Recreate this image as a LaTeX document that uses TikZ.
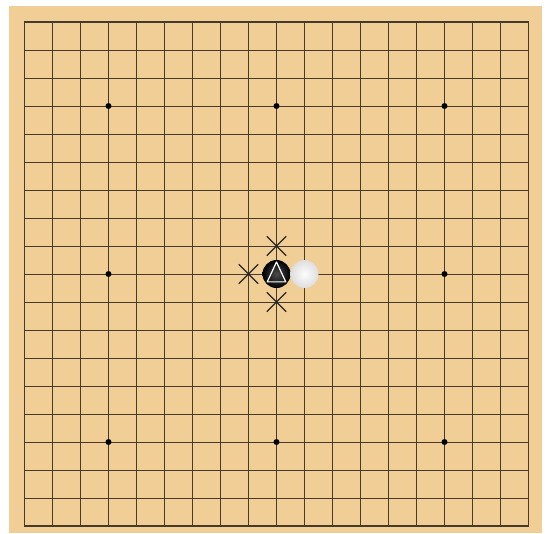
\documentclass[tikz,border=0pt]{standalone}
\usepackage{xcolor}
\usepackage{tikz}
\usetikzlibrary{positioning,calc,shapes.misc}
\definecolor{woodtan}{RGB}{240,206,150}
\definecolor{gridline}{RGB}{70,58,44}
\definecolor{stonewhite}{RGB}{252,252,252}
\definecolor{stonegrey}{RGB}{222,222,222}
\tikzset{
  boardline/.style={draw=gridline,line width=0.9pt},
  boardedge/.style={draw=gridline,line width=1.8pt},
  starpoint/.style={circle,fill=black,inner sep=0pt,minimum size=6pt},
  blackstone/.style={circle,inner sep=0pt,minimum size=28pt,inner color=black!70,outer color=black,shading=radial},
  whitestone/.style={circle,inner sep=0pt,minimum size=28pt,inner color=stonewhite,outer color=stonegrey,shading=radial},
  markcross/.style={cross out,draw=black!85,line width=1.3pt,inner sep=0pt,minimum size=18pt},
  lastmove/.style={draw=white,line width=1.2pt,line join=round},
}

\begin{document}
\begin{tikzpicture}[x=28pt,y=-28pt]
  % page and board
  \useasboundingbox (-0.875,-0.786) rectangle (18.768,18.25);
  \fill[white] (-0.875,-0.786) rectangle (18.768,18.25);
  \fill[woodtan] (-0.554,-0.571) rectangle (18.482,18.25);
  % grid
  \foreach \i in {1,...,17} {
    \draw[boardline] (\i,0) -- (\i,18);
    \draw[boardline] (0,\i) -- (18,\i);
  }
  \draw[boardedge] (0,0) rectangle (18,18);
  % hoshi
  \foreach \c in {3,9,15} {
    \foreach \r in {3,9,15} {
      \node[starpoint] (hoshi-\c-\r) at (\c,\r) {};
    }
  }
  % stones
  \node[blackstone] (black) at (9,9) {};
  \node[whitestone] (white) at (10,9) {};
  \draw[lastmove] ($(black)+(0,-0.43)$) -- ($(black)+(0.33,0.28)$) -- ($(black)+(-0.33,0.28)$) -- cycle;
  % liberties
  \node[markcross] (libtop) at (9,8) {};
  \node[markcross] (libleft) at (8,9) {};
  \node[markcross] (libbottom) at (9,10) {};
\end{tikzpicture}
\end{document}
